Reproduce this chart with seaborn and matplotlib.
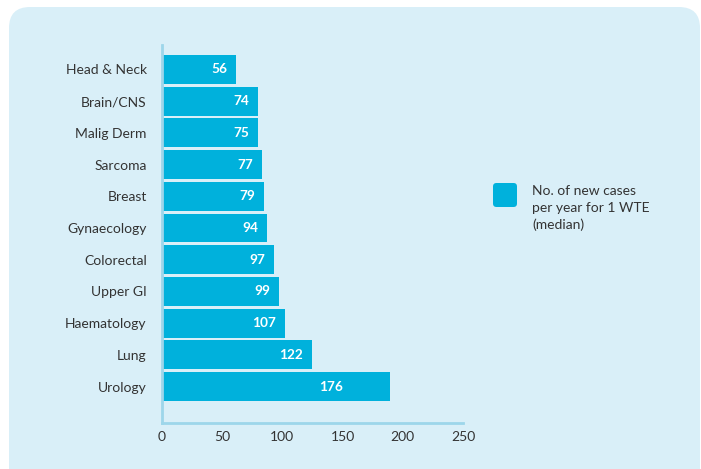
import matplotlib
matplotlib.use("Agg")
import matplotlib.pyplot as plt
import seaborn as sns
import pandas as pd
from matplotlib.patches import FancyBboxPatch

# ---- data ----
categories = ["Head & Neck", "Brain/CNS", "Malig Derm", "Sarcoma", "Breast",
              "Gynaecology", "Colorectal", "Upper GI", "Haematology", "Lung", "Urology"]
# printed median values
labels = [56, 74, 75, 77, 79, 94, 97, 99, 107, 122, 176]
# bar lengths as drawn against the x axis in the picture
bar_lengths = [61.5, 79.7, 79.7, 83.1, 84.7, 87.2, 93.0, 97.2, 102.2, 124.6, 189.4]
xticks = [0, 50, 100, 150, 200, 250]
legend_text = "No. of new cases\nper year for 1 WTE\n(median)"

BAR = "#00b1dc"
BG = "#d9eff8"
SPINE = "#9dd6ea"
TXT = "#333333"

sns.set_theme(style="white")
plt.rcParams['font.family'] = ['Lato', 'DejaVu Sans']

W, H = 701, 469
fig = plt.figure(figsize=(W / 100, H / 100), dpi=100)
fig.patch.set_facecolor("white")

# rounded background panel
panel = FancyBboxPatch((9 / W, -20 / H), (700 - 9) / W, (469 - 7 + 20) / H,
                       boxstyle="round,pad=0,rounding_size=0.03",
                       transform=fig.transFigure, facecolor=BG, edgecolor="none",
                       mutation_aspect=W / H, zorder=-10)
fig.patches.append(panel)

ax = fig.add_axes([162 / W, 1 - 423 / H, (463 - 162) / W, (423 - 45) / H])
ax.set_facecolor("none")
ax.set_zorder(5)

df = pd.DataFrame({"category": categories, "value": bar_lengths})
sns.barplot(data=df, y="category", x="value", color=BAR, saturation=1,
            width=0.91, orient="h", ax=ax, zorder=2)

ax.set_xlim(0, 250)
ax.set_ylim(11.15, -0.77)
ax.set_xticks(xticks)
ax.set_xticklabels([str(t) for t in xticks], fontsize=10, color=TXT)
ax.set_xlabel("")
ax.set_ylabel("")
ax.tick_params(axis="y", length=0, labelsize=10, labelcolor=TXT, pad=11)
ax.tick_params(axis="x", direction="in", length=10, width=2, color=SPINE,
               pad=6, labelsize=10, labelcolor=TXT)
for s in ["top", "right"]:
    ax.spines[s].set_visible(False)
for s in ["left", "bottom"]:
    ax.spines[s].set_color(SPINE)
    ax.spines[s].set_linewidth(2)
for p in ax.patches:
    p.set_edgecolor("none")

for i, (b, lab) in enumerate(zip(bar_lengths, labels)):
    xpos = min(b - 7.5, 150)
    ax.text(xpos, i, str(lab), ha="right", va="center", color="white",
            fontsize=9.8, fontweight="bold", zorder=3)

# legend
sq = FancyBboxPatch((493 / W, 1 - 207 / H), 24 / W, 24 / H,
                    boxstyle="round,pad=0,rounding_size=0.005",
                    transform=fig.transFigure, facecolor=BAR, edgecolor="none",
                    mutation_aspect=W / H, zorder=1)
fig.patches.append(sq)
fig.text(532 / W, 1 - 185 / H, legend_text, ha="left", va="top",
         fontsize=10, color=TXT, linespacing=1.45)

fig.savefig("out.png", dpi=100, facecolor="white")
